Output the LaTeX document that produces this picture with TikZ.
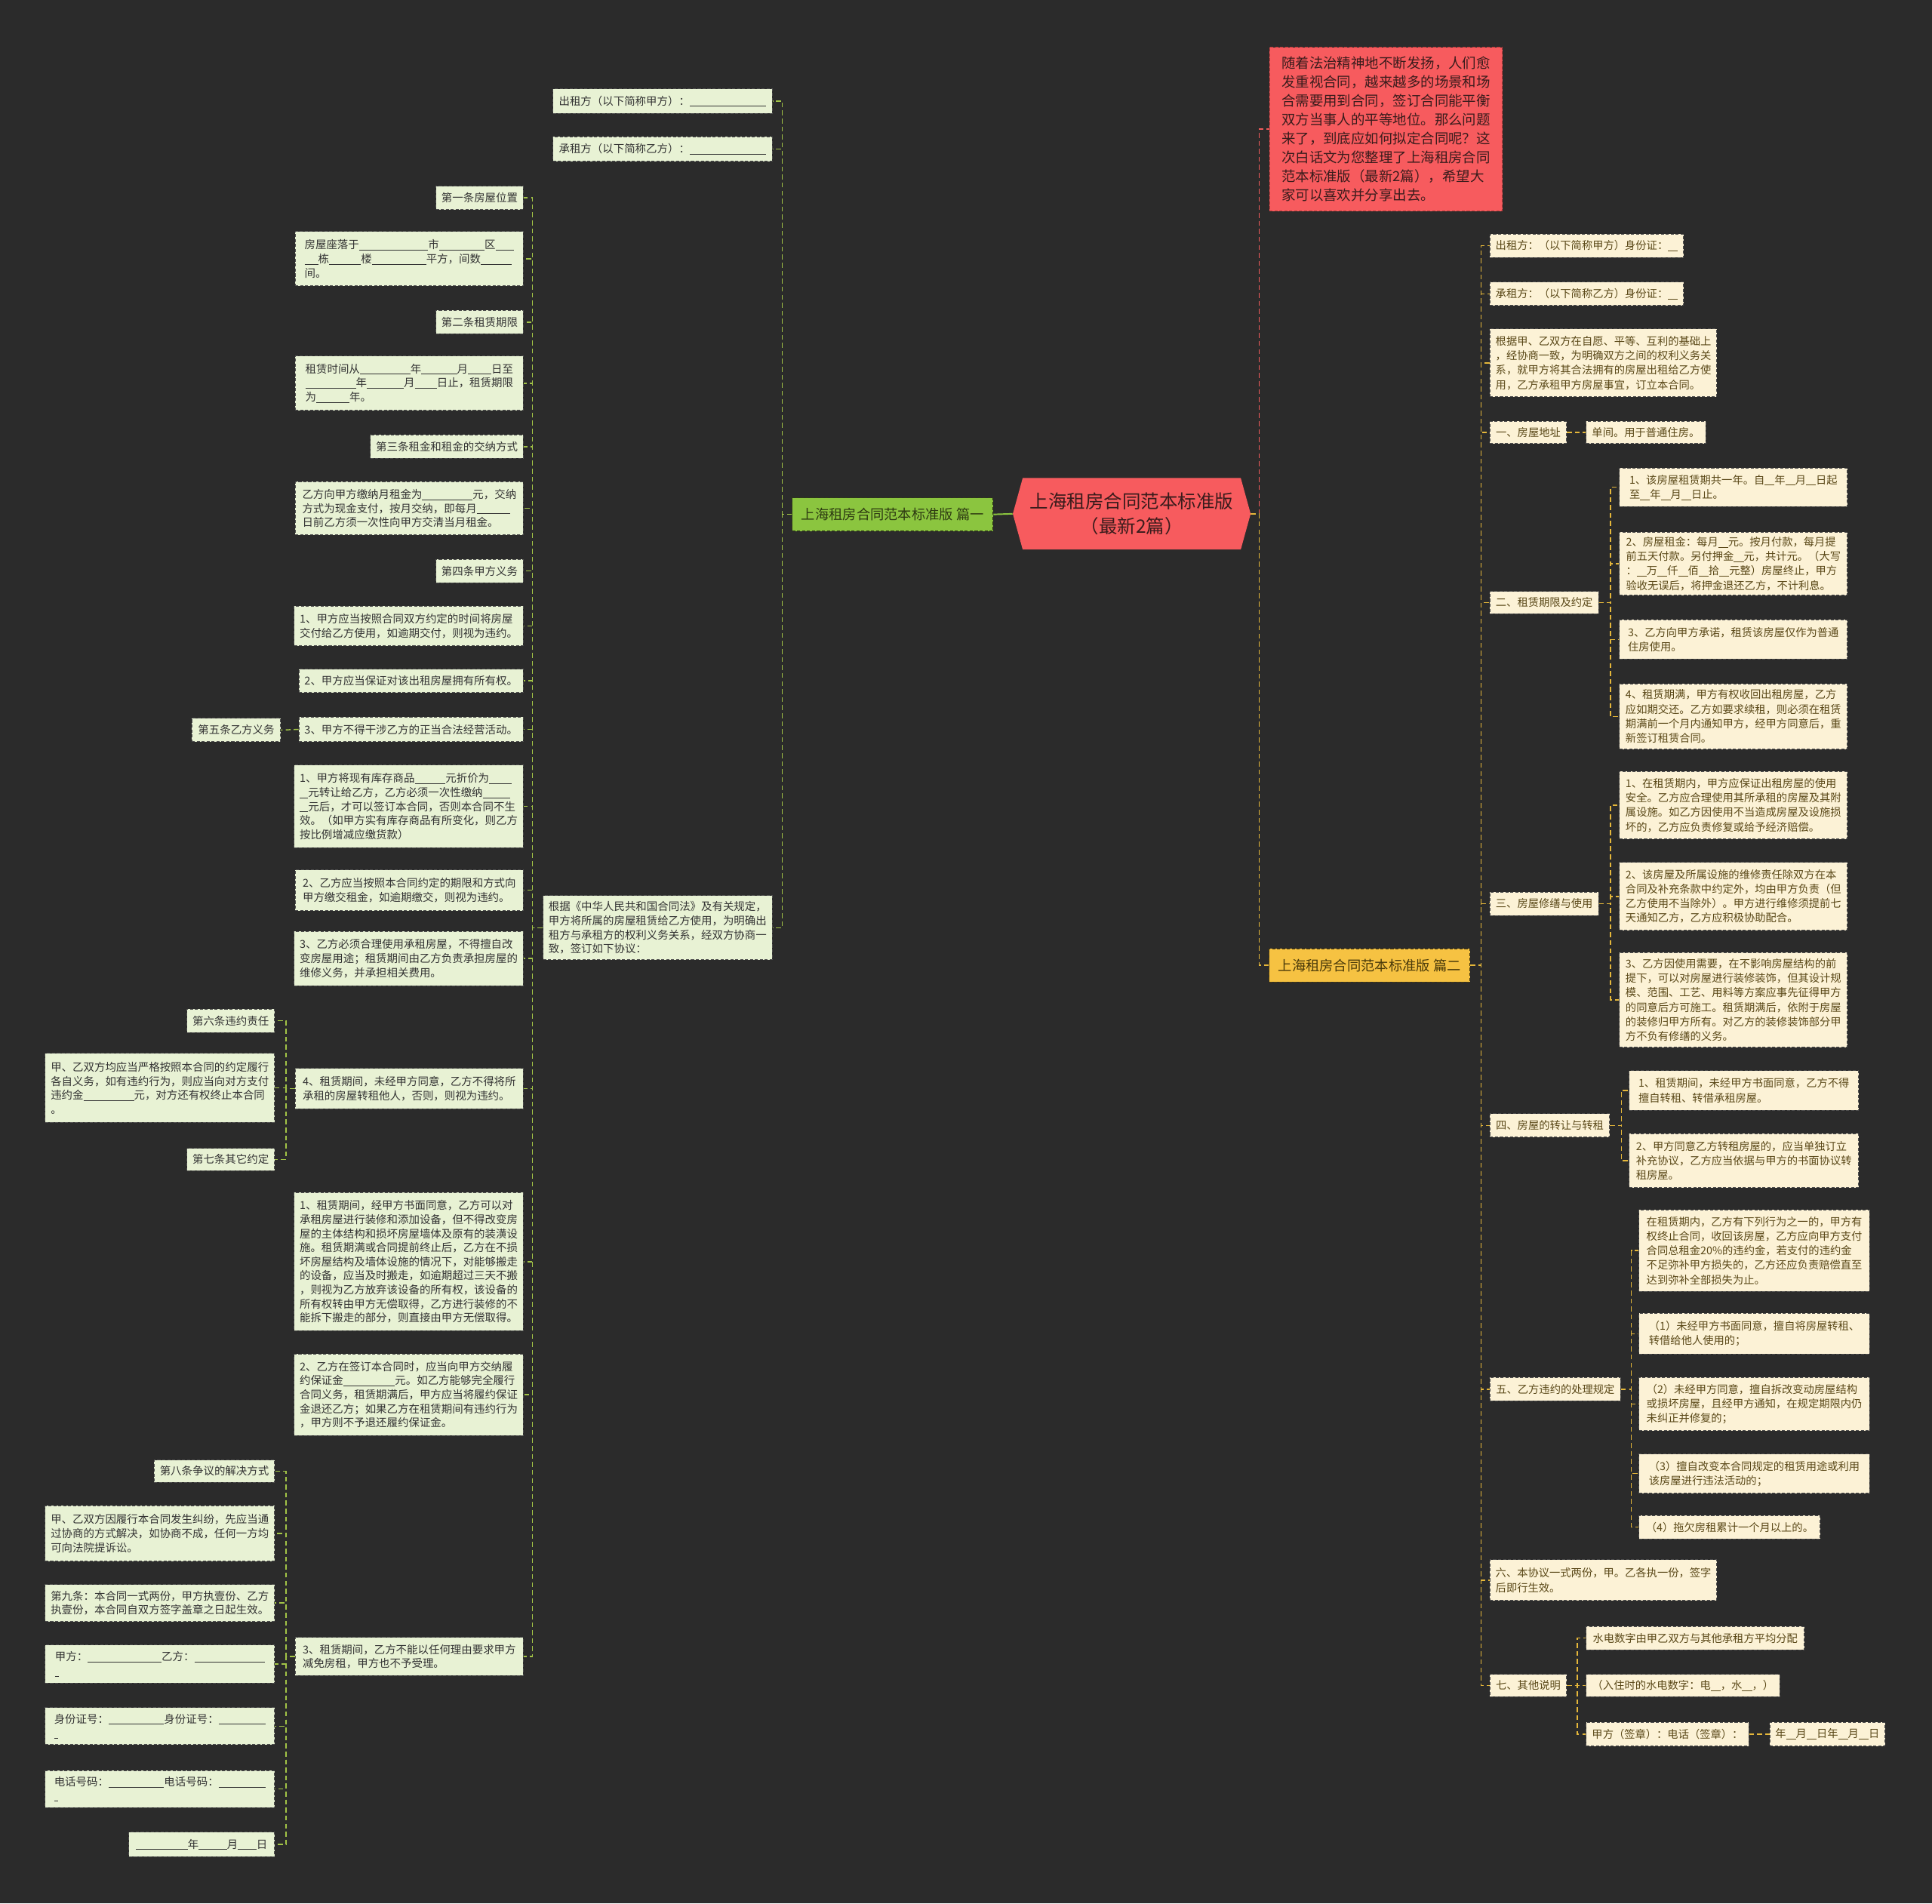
\documentclass[tikz,border=0pt]{standalone}
\usepackage{fontspec}
\setmainfont{Noto Sans CJK SC}
\definecolor{bgc}{HTML}{2B2B2B}
\definecolor{cfill}{HTML}{F75B5E}
\definecolor{ctext}{HTML}{3A1C1C}
\definecolor{introb}{HTML}{B83A3A}
\definecolor{gfill}{HTML}{8BC53F}
\definecolor{gtext}{HTML}{2E3B12}
\definecolor{yfill}{HTML}{F6C242}
\definecolor{ytext}{HTML}{4A3A0A}
\definecolor{lfill}{HTML}{E8F2D4}
\definecolor{rfill}{HTML}{FCF2D6}
\definecolor{ltext}{HTML}{333333}
\definecolor{rtext}{HTML}{5A4818}
\definecolor{bordc}{HTML}{4E4E4E}
\definecolor{lline}{HTML}{A3C547}
\definecolor{rline}{HTML}{E5B73A}
\definecolor{redl}{HTML}{F25C5C}
\newcommand\blnk[1]{\rule[-1.3pt]{#1pt}{0.55pt}}
\newcommand\LB[6]{%
  \pgfmathsetmacro\mybw{#4-#2}\pgfmathsetmacro\mybh{#5-#3}\pgfmathsetmacro\mycy{(#3+#5)/2}%
  \node[lbox,anchor=east,minimum width=\mybw pt,minimum height=\mybh pt] (#1) at (#4,\mycy) {#6};}
\newcommand\RB[6]{%
  \pgfmathsetmacro\mybw{#4-#2}\pgfmathsetmacro\mybh{#5-#3}\pgfmathsetmacro\mycy{(#3+#5)/2}%
  \node[rbox,anchor=west,minimum width=\mybw pt,minimum height=\mybh pt] (#1) at (#2,\mycy) {#6};}
\newcommand\LC[3]{\draw[lconn] (#1.west) -- (#1.west -| #3) |- (#2.east);}
\newcommand\RC[3]{\draw[rconn] (#1.east) -- (#1.east -| #3) |- (#2.west);}
\tikzset{
  lbox/.style={draw=bordc, fill=lfill, text=ltext, line width=0.6pt, dash pattern=on 2.5pt off 1.5pt,
    inner xsep=4.5pt, inner ysep=2pt, align=left, font=\fontsize{8.85}{11.4}\selectfont},
  rbox/.style={lbox, fill=rfill, text=rtext, font=\fontsize{8.75}{11.8}\selectfont},
  lconn/.style={draw=lline, line width=0.9pt, dash pattern=on 4pt off 2.5pt},
  rconn/.style={draw=rline, line width=0.9pt, dash pattern=on 4pt off 2.5pt},
  redconn/.style={draw=redl, line width=0.9pt, dash pattern=on 4pt off 2.5pt},
}
\begin{document}
\begin{tikzpicture}[x=1pt,y=-1pt]
\useasboundingbox (0,0) rectangle (1568,1545);
\fill[bgc] (0,0) rectangle (1568,1545);

% trunk coordinates
\coordinate (C0) at (1022,0);
\coordinate (T0) at (635,0);
\coordinate (T1) at (432,0);
\coordinate (T3) at (232,0);
\coordinate (R0) at (1202,0);
\coordinate (R1) at (1307,0);
\coordinate (R2) at (1316,0);
\coordinate (R3) at (1324,0);
\coordinate (R4) at (1280,0);

% central node
\fill[cfill] (822,417) -- (830,388) -- (1007,388) -- (1015,417) -- (1007,446) -- (830,446) -- cycle;
\node[text=ctext, align=center, font=\fontsize{15}{20}\selectfont, minimum width=193pt, minimum height=58pt, inner sep=0pt] (c) at (918.5,417) {上海租房合同范本标准版\\（最新2篇）};

% intro box
\node[draw=introb, fill=cfill, text=ctext, dash pattern=on 2.5pt off 1.5pt, line width=0.7pt, align=left,
  font=\fontsize{11.3}{15.3}\selectfont, minimum width=189pt, minimum height=133pt, anchor=north west, inner xsep=5pt] (intro) at (1030,38)
 {随着法治精神地不断发扬，人们愈\\发重视合同，越来越多的场景和场\\合需要用到合同，签订合同能平衡\\双方当事人的平等地位。那么问题\\来了，到底应如何拟定合同呢？这\\次白话文为您整理了上海租房合同\\范本标准版（最新2篇），希望大\\家可以喜欢并分享出去。};

% main branches
\node[fill=gfill, draw=gtext, dash pattern=on 2.5pt off 1.5pt, line width=0.6pt, text=gtext, font=\fontsize{11.2}{13}\selectfont,
  minimum width=163pt, minimum height=27pt, inner xsep=4pt] (s1) at (724.5,417.5) {上海租房合同范本标准版 篇一};
\node[fill=yfill, draw=ytext, dash pattern=on 2.5pt off 1.5pt, line width=0.6pt, text=ytext, font=\fontsize{11.2}{13}\selectfont,
  minimum width=163pt, minimum height=27pt, inner xsep=4pt] (s2) at (1111.5,783.5) {上海租房合同范本标准版 篇二};

\draw[draw=gfill, line width=1.2pt] (c.west) -- (s1.east);
\draw[redconn] (c.east) -- (c.east -| C0) |- (intro.west);
\draw[rconn] (c.east) -- (c.east -| C0) |- (s2.west);

% ---------- left side (篇一) ----------
\LB{p1}{449}{72}{627}{92}{出租方（以下简称甲方）：\blnk{62}}
\LB{p2}{449}{111}{627}{131}{承租方（以下简称乙方）：\blnk{62}}
\LB{p3}{441}{727}{627}{779}{根据《中华人民共和国合同法》及有关规定，\\甲方将所属的房屋租赁给乙方使用，为明确出\\租方与承租方的权利义务关系，经双方协商一\\致，签订如下协议：}
\foreach \k in {p1,p2,p3} {\LC{s1}{\k}{T0}}

\LB{a1}{356}{151}{425}{170}{第一条房屋位置}
\LB{a2}{240}{188}{425}{232}{房屋座落于\blnk{56}市\blnk{37}区\blnk{15}\\\blnk{11}栋\blnk{26}楼\blnk{44}平方，间数\blnk{25}\\间。}
\LB{a3}{356}{252}{425}{271}{第二条租赁期限}
\LB{a4}{240}{289}{425}{333}{租赁时间从\blnk{41}年\blnk{29}月\blnk{19}日至\\\blnk{41}年\blnk{30}月\blnk{18}日止，租赁期限\\为\blnk{27}年。}
\LB{a5}{301}{353}{425}{372}{第三条租金和租金的交纳方式}
\LB{a6}{240}{391}{425}{434}{乙方向甲方缴纳月租金为\blnk{41}元，交纳\\方式为现金支付，按月交纳，即每月\blnk{27}\\日前乙方须一次性向甲方交清当月租金。}
\LB{a7}{356}{454}{425}{473}{第四条甲方义务}
\LB{a8}{240}{492}{425}{524}{1、甲方应当按照合同双方约定的时间将房屋\\交付给乙方使用，如逾期交付，则视为违约。}
\LB{a9}{245}{543}{425}{562}{2、甲方应当保证对该出租房屋拥有所有权。}
\LB{a10}{245}{582}{425}{602}{3、甲方不得干涉乙方的正当合法经营活动。}
\LB{a11}{240}{621}{425}{688}{1、甲方将现有库存商品\blnk{25}元折价为\blnk{18}\\\blnk{7}元转让给乙方，乙方必须一次性缴纳\blnk{22}\\\blnk{7}元后，才可以签订本合同，否则本合同不生\\效。（如甲方实有库存商品有所变化，则乙方\\按比例增减应缴货款）}
\LB{a12}{240}{706}{425}{739}{2、乙方应当按照本合同约定的期限和方式向\\甲方缴交租金，如逾期缴交，则视为违约。}
\LB{a13}{240}{756}{425}{800}{3、乙方必须合理使用承租房屋，不得擅自改\\变房屋用途；租赁期间由乙方负责承担房屋的\\维修义务，并承担相关费用。}
\LB{a14}{240}{867}{425}{900}{4、租赁期间，未经甲方同意，乙方不得将所\\承租的房屋转租他人，否则，则视为违约。}
\LB{a15}{240}{968}{425}{1080}{1、租赁期间，经甲方书面同意，乙方可以对\\承租房屋进行装修和添加设备，但不得改变房\\屋的主体结构和损坏房屋墙体及原有的装潢设\\施。租赁期满或合同提前终止后，乙方在不损\\坏房屋结构及墙体设施的情况下，对能够搬走\\的设备，应当及时搬走，如逾期超过三天不搬\\，则视为乙方放弃该设备的所有权，该设备的\\所有权转由甲方无偿取得，乙方进行装修的不\\能拆下搬走的部分，则直接由甲方无偿取得。}
\LB{a16}{240}{1099}{425}{1165}{2、乙方在签订本合同时，应当向甲方交纳履\\约保证金\blnk{42}元。如乙方能够完全履行\\合同义务，租赁期满后，甲方应当将履约保证\\金退还乙方；如果乙方在租赁期间有违约行为\\，甲方则不予退还履约保证金。}
\LB{a17}{240}{1329}{425}{1360}{3、租赁期间，乙方不能以任何理由要求甲方\\减免房租，甲方也不予受理。}
\foreach \k in {a1,a2,a3,a4,a5,a6,a7,a8,a9,a10,a11,a12,a13,a14,a15,a16,a17} {\LC{p3}{\k}{T1}}

\LB{a10c}{156}{583}{228}{602}{第五条乙方义务}
\draw[lconn] (a10.west) -- (a10c.east);

\LB{b1}{152}{819}{223}{838}{第六条违约责任}
\LB{b2}{37}{855}{223}{911}{甲、乙双方均应当严格按照本合同的约定履行\\各自义务，如有违约行为，则应当向对方支付\\违约金\blnk{41}元，对方还有权终止本合同\\。}
\LB{b3}{152}{932}{223}{950}{第七条其它约定}
\foreach \k in {b1,b2,b3} {\LC{a14}{\k}{T3}}

\LB{d1}{126}{1185}{223}{1203}{第八条争议的解决方式}
\LB{d2}{37}{1222}{223}{1267}{甲、乙双方因履行本合同发生纠纷，先应当通\\过协商的方式解决，如协商不成，任何一方均\\可向法院提诉讼。}
\LB{d3}{37}{1286}{223}{1316}{第九条：本合同一式两份，甲方执壹份、乙方\\执壹份，本合同自双方签字盖章之日起生效。}
\LB{d4}{37}{1335}{223}{1366}{甲方：\blnk{60}乙方：\blnk{57}\\\blnk{3}}
\LB{d5}{37}{1386}{223}{1416}{身份证号：\blnk{45}身份证号：\blnk{38}\\\blnk{3}}
\LB{d6}{37}{1437}{223}{1467}{电话号码：\blnk{45}电话号码：\blnk{38}\\\blnk{3}}
\LB{d7}{105}{1487}{223}{1507}{\blnk{42}年\blnk{23}月\blnk{15}日}
\foreach \k in {d1,d2,d3,d4,d5,d6,d7} {\LC{a17}{\k}{T3}}

% ---------- right side (篇二) ----------
\RB{r1}{1209}{190}{1366}{209}{出租方：（以下简称甲方）身份证：\blnk{8}}
\RB{r2}{1209}{229}{1366}{248}{承租方：（以下简称乙方）身份证：\blnk{8}}
\RB{r3}{1209}{267}{1393}{322}{根据甲、乙双方在自愿、平等、互利的基础上\\，经协商一致，为明确双方之间的权利义务关\\系，就甲方将其合法拥有的房屋出租给乙方使\\用，乙方承租甲方房屋事宜，订立本合同。}
\RB{r4}{1209}{342}{1271}{360}{一、房屋地址}
\RB{r5}{1209}{480}{1297}{498}{二、租赁期限及约定}
\RB{r6}{1209}{724}{1297}{743}{三、房屋修缮与使用}
\RB{r7}{1209}{904}{1306}{923}{四、房屋的转让与转租}
\RB{r8}{1209}{1118}{1315}{1137}{五、乙方违约的处理规定}
\RB{r9}{1209}{1266}{1393}{1299}{六、本协议一式两份，甲。乙各执一份，签字\\后即行生效。}
\RB{r10}{1209}{1359}{1271}{1377}{七、其他说明}
\foreach \k in {r1,r2,r3,r4,r5,r6,r7,r8,r9,r10} {\RC{s2}{\k}{R0}}

\RB{r4a}{1287}{342}{1384}{360}{单间。用于普通住房。}
\draw[rconn] (r4.east) -- (r4a.west);

\RB{r5a}{1314}{380}{1499}{411}{1、该房屋租赁期共一年。自\blnk{8}年\blnk{8}月\blnk{8}日起\\至\blnk{8}年\blnk{8}月\blnk{8}日止。}
\RB{r5b}{1314}{432}{1499}{483}{2、房屋租金：每月\blnk{8}元。按月付款，每月提\\前五天付款。另付押金\blnk{8}元，共计元。（大写\\：\blnk{8}万\blnk{8}仟\blnk{8}佰\blnk{8}拾\blnk{8}元整）房屋终止，甲方\\验收无误后，将押金退还乙方，不计利息。}
\RB{r5c}{1314}{503}{1499}{535}{3、乙方向甲方承诺，租赁该房屋仅作为普通\\住房使用。}
\RB{r5d}{1314}{555}{1499}{608}{4、租赁期满，甲方有权收回出租房屋，乙方\\应如期交还。乙方如要求续租，则必须在租赁\\期满前一个月内通知甲方，经甲方同意后，重\\新签订租赁合同。}
\foreach \k in {r5a,r5b,r5c,r5d} {\RC{r5}{\k}{R1}}

\RB{r6a}{1314}{626}{1499}{681}{1、在租赁期内，甲方应保证出租房屋的使用\\安全。乙方应合理使用其所承租的房屋及其附\\属设施。如乙方因使用不当造成房屋及设施损\\坏的，乙方应负责修复或给予经济赔偿。}
\RB{r6b}{1314}{700}{1499}{755}{2、该房屋及所属设施的维修责任除双方在本\\合同及补充条款中约定外，均由甲方负责（但\\乙方使用不当除外）。甲方进行维修须提前七\\天通知乙方，乙方应积极协助配合。}
\RB{r6c}{1314}{773}{1499}{850}{3、乙方因使用需要，在不影响房屋结构的前\\提下，可以对房屋进行装修装饰，但其设计规\\模、范围、工艺、用料等方案应事先征得甲方\\的同意后方可施工。租赁期满后，依附于房屋\\的装修归甲方所有。对乙方的装修装饰部分甲\\方不负有修缮的义务。}
\foreach \k in {r6a,r6b,r6c} {\RC{r6}{\k}{R1}}

\RB{r7a}{1322}{869}{1508}{901}{1、租赁期间，未经甲方书面同意，乙方不得\\擅自转租、转借承租房屋。}
\RB{r7b}{1322}{920}{1508}{964}{2、甲方同意乙方转租房屋的，应当单独订立\\补充协议，乙方应当依据与甲方的书面协议转\\租房屋。}
\foreach \k in {r7a,r7b} {\RC{r7}{\k}{R2}}

\RB{r8a}{1330}{982}{1517}{1048}{在租赁期内，乙方有下列行为之一的，甲方有\\权终止合同，收回该房屋，乙方应向甲方支付\\合同总租金20\%的违约金，若支付的违约金\\不足弥补甲方损失的，乙方还应负责赔偿直至\\达到弥补全部损失为止。}
\RB{r8b}{1330}{1066}{1517}{1099}{（1）未经甲方书面同意，擅自将房屋转租、\\转借给他人使用的；}
\RB{r8c}{1330}{1118}{1517}{1161}{（2）未经甲方同意，擅自拆改变动房屋结构\\或损坏房屋，且经甲方通知，在规定期限内仍\\未纠正并修复的；}
\RB{r8d}{1330}{1180}{1517}{1212}{（3）擅自改变本合同规定的租赁用途或利用\\该房屋进行违法活动的；}
\RB{r8e}{1330}{1230}{1477}{1249}{（4）拖欠房租累计一个月以上的。}
\foreach \k in {r8a,r8b,r8c,r8d,r8e} {\RC{r8}{\k}{R3}}

\RB{r10a}{1287}{1320}{1464}{1339}{水电数字由甲乙双方与其他承租方平均分配}
\RB{r10b}{1287}{1359}{1444}{1377}{（入住时的水电数字：电\blnk{8}，水\blnk{8}，）}
\RB{r10c}{1287}{1398}{1419}{1417}{甲方（签章）：电话（签章）：}
\foreach \k in {r10a,r10b,r10c} {\RC{r10}{\k}{R4}}
\RB{r10d}{1436}{1398}{1529}{1417}{年\blnk{8}月\blnk{8}日年\blnk{8}月\blnk{8}日}
\draw[rconn] (r10c.east) -- (r10d.west);
\end{tikzpicture}
\end{document}
